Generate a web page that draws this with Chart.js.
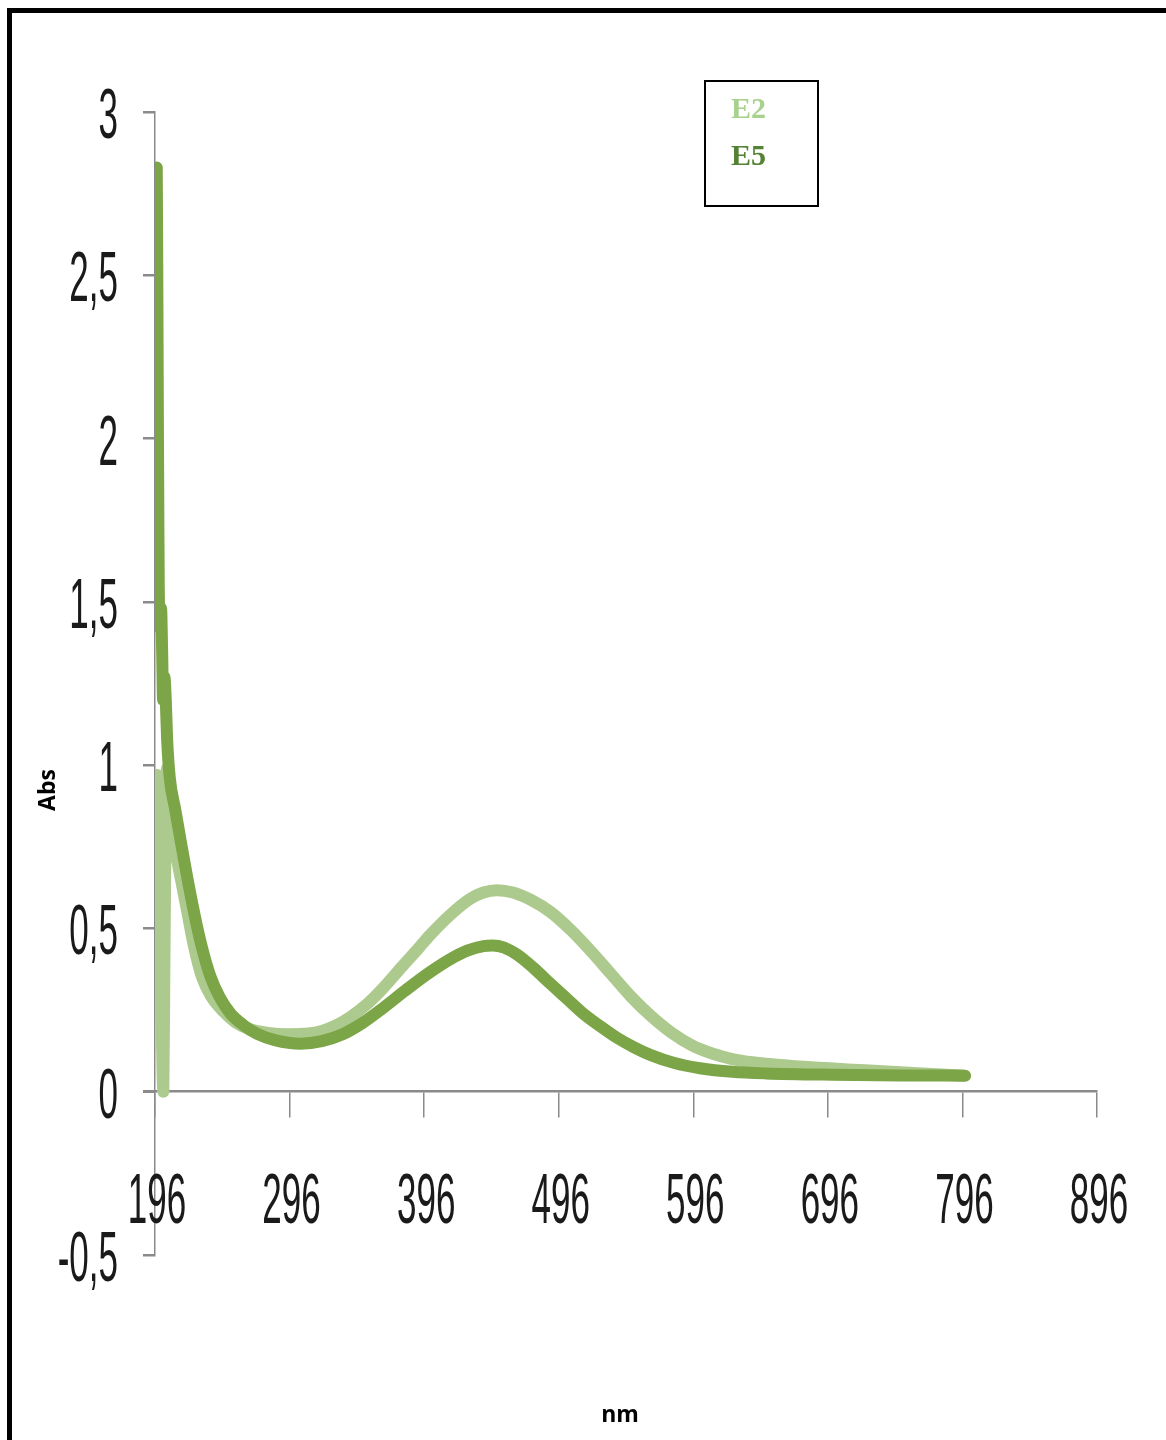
<!DOCTYPE html>
<html>
<head>
<meta charset="utf-8">
<title>Abs / nm</title>
<script src="https://cdn.jsdelivr.net/npm/chart.js@4.4.0/dist/chart.umd.min.js"></script>
<style>
  html, body { margin: 0; padding: 0; background: #fff; }
  #wrap { width: 1166px; height: 1440px; }
  canvas { display: block; }
</style>
</head>
<body>
<div id="wrap"><canvas id="lineChartAbs" width="1166" height="1440"></canvas></div>
<script>
// spectra (wavelength in nm, absorbance)
var seriesNames = ['E2', 'E5'];

var e2Nm  = [196.3, 196.8, 197.5, 198.5, 199.5, 200.5, 201.5, 202.2, 203, 204, 205, 206, 207.5, 209, 212, 216, 220, 225, 231, 238, 247, 256, 266, 280, 295, 310, 320, 330, 341, 353, 365, 380, 392, 400, 415, 430, 440, 450, 462, 475, 490, 505, 520, 535, 550, 565, 580, 595, 610, 625, 640, 675, 727, 760, 796];
var e2Abs = [0.3, 0.85, 0.97, 0.85, 0.6, 0.33, 0.08, 0.0, 0.4, 0.85, 0.99, 0.975, 0.91, 0.8, 0.72, 0.635, 0.55, 0.445, 0.35, 0.29, 0.245, 0.212, 0.192, 0.18, 0.176, 0.178, 0.186, 0.202, 0.228, 0.266, 0.315, 0.385, 0.44, 0.478, 0.54, 0.59, 0.61, 0.617, 0.61, 0.588, 0.55, 0.495, 0.43, 0.36, 0.29, 0.23, 0.18, 0.142, 0.117, 0.1, 0.09, 0.077, 0.065, 0.057, 0.05];

var e5Nm  = [197.3, 197.6, 197.9, 198.2, 198.5, 198.8, 199.5, 200.5, 201.3, 202, 203, 204, 205, 207, 211, 215, 220, 226, 231, 237, 244, 252, 262, 272, 285, 304, 320, 335, 350, 365, 382, 400, 415, 428, 440, 447, 455, 465, 477, 490, 502, 514, 527, 539, 552, 564, 582, 601, 625, 650, 700, 750, 798];
var e5Abs = [2.83, 2.6, 2.3, 2.0, 1.75, 1.55, 1.42, 1.48, 1.35, 1.2, 1.27, 1.2, 1.08, 0.96, 0.865, 0.77, 0.655, 0.53, 0.44, 0.355, 0.29, 0.24, 0.203, 0.177, 0.158, 0.147, 0.155, 0.175, 0.21, 0.255, 0.31, 0.365, 0.405, 0.432, 0.446, 0.448, 0.442, 0.42, 0.38, 0.33, 0.285, 0.24, 0.2, 0.166, 0.136, 0.113, 0.088, 0.072, 0.061, 0.056, 0.052, 0.05, 0.049];

var xTicks = [196, 296, 396, 496, 596, 696, 796, 896];
var yTicks = [-0.5, 0, 0.5, 1, 1.5, 2, 2.5, 3];

function toPoints(xs, ys) {
    return xs.map(function(x, i){
        return { x: x, y: ys[i] };
    });
}

function fmt(v) {
    return String(v).replace('.', ',');
}

// frame, tick labels, axis titles and the legend box
var chartDecor = {
    id: 'chartDecor',
    afterDraw: function(chart) {
        var ctx = chart.ctx;
        var xs = chart.scales.x;
        var ys = chart.scales.y;
        var zeroY = ys.getPixelForValue(0);
        ctx.save();

        ctx.fillStyle = '#000';
        ctx.fillRect(7, 8, 5, 1432);
        ctx.fillRect(7, 8, 1159, 5);

        // x axis runs a little past the y axis
        ctx.strokeStyle = '#8a8a8a';
        ctx.lineWidth = 2.5;
        ctx.beginPath();
        ctx.moveTo(143, zeroY);
        ctx.lineTo(xs.left, zeroY);
        ctx.stroke();

        // narrow tick labels
        ctx.fillStyle = '#1a1a1a';
        ctx.font = '70px "Liberation Sans", Arial, sans-serif';
        ctx.textBaseline = 'alphabetic';
        yTicks.forEach(function(v){
            var py = ys.getPixelForValue(v);
            ctx.save();
            ctx.translate(118, py + 26);
            ctx.scale(0.5, 1);
            ctx.textAlign = 'right';
            ctx.fillText(fmt(v), 0, 0);
            ctx.restore();
        });
        xTicks.forEach(function(v){
            var px = xs.getPixelForValue(v);
            ctx.save();
            ctx.translate(px + 2, 1223);
            ctx.scale(0.5, 1);
            ctx.textAlign = 'center';
            ctx.fillText(fmt(v), 0, 0);
            ctx.restore();
        });

        // axis titles
        ctx.fillStyle = '#000';
        ctx.font = 'bold 23px "Open Sans", sans-serif';
        ctx.textAlign = 'center';
        ctx.fillText('nm', 620, 1422);
        ctx.save();
        ctx.translate(55, 790);
        ctx.rotate(-Math.PI / 2);
        ctx.fillText('Abs', 0, 0);
        ctx.restore();

        // legend
        ctx.strokeStyle = '#000';
        ctx.lineWidth = 2;
        ctx.strokeRect(705, 81, 113, 125);
        ctx.font = 'bold 30px "Liberation Serif", "Times New Roman", serif';
        ctx.textAlign = 'left';
        ctx.fillStyle = '#a9d18e';
        ctx.fillText(seriesNames[0], 731, 118);
        ctx.fillStyle = '#548235';
        ctx.fillText(seriesNames[1], 731, 165);

        ctx.restore();
    }
};

var lineChartCanvas = document.getElementById('lineChartAbs').getContext('2d');

new Chart(lineChartCanvas, {
    type: 'line',
    data: {
        datasets: [
            {
                label: seriesNames[0],
                data: toPoints(e2Nm, e2Abs),
                borderColor: '#adca8e',
                borderWidth: 12,
                borderCapStyle: 'round',
                borderJoinStyle: 'round',
                pointRadius: 0,
                cubicInterpolationMode: 'monotone',
                fill: false,
                order: 1
            },
            {
                label: seriesNames[1],
                data: toPoints(e5Nm, e5Abs),
                borderColor: '#7ba546',
                borderWidth: 12,
                borderCapStyle: 'round',
                borderJoinStyle: 'round',
                pointRadius: 0,
                cubicInterpolationMode: 'monotone',
                fill: false,
                order: 0
            }
        ]
    },
    options: {
        responsive: false,
        animation: false,
        devicePixelRatio: 1,
        layout: { padding: { left: 143, top: 112, right: 69, bottom: 185 } },
        plugins: {
            legend: { display: false },
            tooltip: { enabled: false }
        },
        scales: {
            x: {
                type: 'linear',
                position: { y: 0 },
                min: 196,
                max: 896,
                afterBuildTicks: function(scale) {
                    scale.ticks = xTicks.map(function(v){ return { value: v }; });
                },
                ticks: { display: false },
                grid: {
                    drawOnChartArea: false,
                    drawTicks: true,
                    tickLength: 25,
                    color: '#8a8a8a',
                    lineWidth: 1.5
                },
                border: { display: true, color: '#8a8a8a', width: 2.5 }
            },
            y: {
                type: 'linear',
                position: 'left',
                min: -0.5,
                max: 3,
                afterBuildTicks: function(scale) {
                    scale.ticks = yTicks.map(function(v){ return { value: v }; });
                },
                afterFit: function(scale) {
                    scale.width = 12;
                },
                ticks: { display: false },
                grid: {
                    drawOnChartArea: false,
                    drawTicks: true,
                    tickLength: 12,
                    color: '#8a8a8a',
                    lineWidth: 2.5
                },
                border: { display: true, color: '#8a8a8a', width: 1.5 }
            }
        }
    },
    plugins: [chartDecor]
});
</script>
</body>
</html>
